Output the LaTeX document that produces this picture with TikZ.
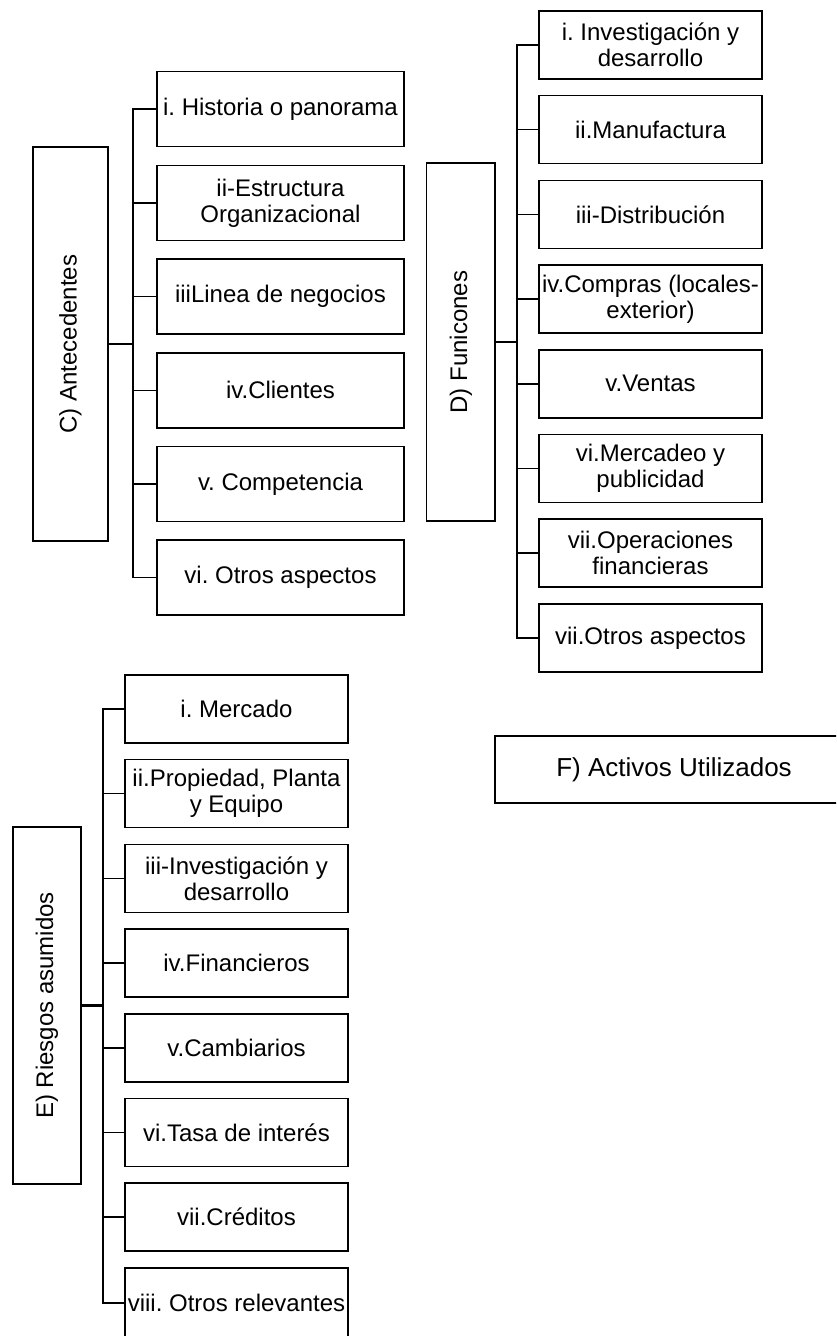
\documentclass[tikz,border=0pt]{standalone}
\usepackage{fontspec}
\setmainfont{Liberation Sans}
\usepackage{graphicx}
\frenchspacing
\begin{document}
\begin{tikzpicture}[x=0.75pt,y=-0.75pt,
  every node/.style={inner sep=0pt,outer sep=0pt},
  itembox/.style={draw,line width=1.15pt,anchor=north west,align=center,
     font=\fontsize{18pt}{19.5pt}\selectfont},
  citem/.style={itembox,minimum width=185.25pt,minimum height=56.25pt},
  ditem/.style={itembox,minimum width=167.25pt,minimum height=51pt},
  mainbox/.style={draw,line width=1.15pt,anchor=north west,
     font=\fontsize{18pt}{19.5pt}\selectfont},
  conn/.style={line width=1.15pt},
  mainconn/.style={line width=1.6pt}]
\useasboundingbox (0,0) rectangle (836,1336);
\clip (0,0) rectangle (836,1336);

% ---------- C) Antecedentes ----------
\node[mainbox,minimum width=56.25pt,minimum height=295.5pt] (cm) at (33,147) {\rotatebox{90}{C) Antecedentes}};
\node[citem] (c1) at (157,71.7) {i. Historia o panorama};
\node[citem] (c2) at (157,165.4) {ii-Estructura\\Organizacional};
\node[citem] (c3) at (157,259.1) {iiiLinea de negocios};
\node[citem] (c4) at (157,352.8) {iv.Clientes};
\node[citem] (c5) at (157,446.5) {v. Competencia};
\node[citem] (c6) at (157,540.2) {vi. Otros aspectos};
\coordinate (cb) at (133,344);
\draw[mainconn] (cm.east) -- (cb);
\draw[conn] (c1.west) -- (c1.west -| cb) -- (c6.west -| cb) -- (c6.west);
\foreach \i in {2,...,5} \draw[conn] (c\i.west) -- (c\i.west -| cb);

% ---------- D) Funicones ----------
\node[mainbox,minimum width=51.2pt,minimum height=268.5pt] (dm) at (426.7,163) {\rotatebox{90}{D) Funicones}};
\node[ditem] (d1) at (539,11) {i. Investigación y\\desarrollo};
\node[ditem] (d2) at (539,95.7) {ii.Manufactura};
\node[ditem] (d3) at (539,180.4) {iii-Distribución};
\node[ditem] (d4) at (539,265.1) {iv.Compras (locales-\\exterior)};
\node[ditem] (d5) at (539,349.8) {v.Ventas};
\node[ditem] (d6) at (539,434.5) {vi.Mercadeo y\\publicidad};
\node[ditem] (d7) at (539,519.2) {vii.Operaciones\\financieras};
\node[ditem] (d8) at (539,603.9) {vii.Otros aspectos};
\coordinate (db) at (517,342);
\draw[mainconn] (dm.east) -- (db);
\draw[conn] (d1.west) -- (d1.west -| db) -- (d8.west -| db) -- (d8.west);
\foreach \i in {2,...,7} \draw[conn] (d\i.west) -- (d\i.west -| db);

% ---------- E) Riesgos asumidos ----------
\node[mainbox,minimum width=51pt,minimum height=267.75pt] (em) at (13,827) {\rotatebox{90}{E) Riesgos asumidos}};
\node[ditem] (e1) at (125,675) {i. Mercado};
\node[ditem] (e2) at (125,759.7) {ii.Propiedad, Planta\\y Equipo};
\node[ditem] (e3) at (125,844.4) {iii-Investigación y\\desarrollo};
\node[ditem] (e4) at (125,929.1) {iv.Financieros};
\node[ditem] (e5) at (125,1013.8) {v.Cambiarios};
\node[ditem] (e6) at (125,1098.5) {vi.Tasa de interés};
\node[ditem] (e7) at (125,1183.2) {vii.Créditos};
\node[ditem,minimum height=53pt] (e8) at (125,1267.9) {viii. Otros relevantes};
\coordinate (eb) at (103,1005.5);
\draw[mainconn] (em.east) -- (eb);
\draw[conn] (e1.west) -- (e1.west -| eb) -- (e8.west -| eb) -- (e8.west);
\foreach \i in {2,...,7} \draw[conn] (e\i.west) -- (e\i.west -| eb);

% ---------- F) Activos Utilizados ----------
\node[mainbox,minimum width=268.5pt,minimum height=50.25pt,
  font=\fontsize{19.5pt}{21pt}\selectfont] (f) at (495,736) {F) Activos Utilizados};
\end{tikzpicture}
\end{document}
